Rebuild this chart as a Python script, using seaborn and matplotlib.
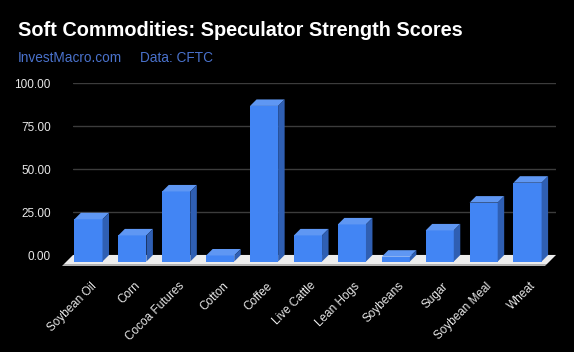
import matplotlib
matplotlib.use("Agg")
import matplotlib.pyplot as plt
from matplotlib.patches import Polygon
import seaborn as sns

# values
commodities = ["Soybean Oil", "Corn", "Cocoa Futures", "Cotton", "Coffee", "Live Cattle",
               "Lean Hogs", "Soybeans", "Sugar", "Soybean Meal", "Wheat"]
scores = [24.6, 15.2, 40.8, 3.5, 90.6, 15.2, 21.6, 2.8, 18.1, 34.3, 45.9]
yticks = [0, 25, 50, 75, 100]

FRONT = "#4285f4"
TOP = "#5f97f3"
SIDE = "#2f5fb3"
DEPTH = 6.5      # bar depth in pixels
FLOOR = 11       # floor depth in pixels


def main():
    sns.set_theme(style="dark")
    plt.rcParams["font.family"] = ["Liberation Sans", "DejaVu Sans"]

    W, H = 574, 352
    fig = plt.figure(figsize=(W / 100, H / 100), dpi=100, facecolor="black")
    # axes = back wall of the 3d box
    ax = fig.add_axes([73 / W, 1 - 255 / H, (556 - 73) / W, (255 - 83.3) / H])
    ax.set_facecolor("black")

    sns.barplot(x=commodities, y=scores, color=FRONT, saturation=1, width=0.64,
                ax=ax, zorder=3)
    ax.set_xlim(-0.5, len(commodities) - 0.5)
    ax.set_ylim(0, 100)

    # pixel -> data unit conversion
    (x0p, y0p), (x1p, y1p) = ax.transData.transform([(0, 0), (1, 1)])
    ux = DEPTH / (x1p - x0p)
    uy = DEPTH / (y1p - y0p)
    fx = FLOOR / (x1p - x0p)
    fy = FLOOR / (y1p - y0p)

    # floor
    xl, xr = ax.get_xlim()
    floor = Polygon([(xl, 0), (xr, 0), (xr - fx * 0.82, -fy * 0.82), (xl - fx * 0.82, -fy * 0.82)],
                    closed=True, facecolor="#ededed", edgecolor="none", clip_on=False, zorder=2)
    edge = Polygon([(xl - fx * 0.82, -fy * 0.82), (xr - fx * 0.82, -fy * 0.82),
                    (xr - fx, -fy), (xl - fx, -fy)],
                   closed=True, facecolor="#b5b5b5", edgecolor="none", clip_on=False, zorder=2)
    ax.add_patch(floor)
    ax.add_patch(edge)

    for p in list(ax.patches):
        if p in (floor, edge):
            continue
        x, w, h = p.get_x(), p.get_width(), p.get_height()
        # move front face forward
        p.set_x(x - ux)
        p.set_y(-uy)
        p.set_clip_on(False)
        p.set_edgecolor("none")
        top = Polygon([(x - ux, h - uy), (x + w - ux, h - uy), (x + w, h), (x, h)],
                      closed=True, facecolor=TOP, edgecolor="none", clip_on=False, zorder=3)
        side = Polygon([(x + w - ux, h - uy), (x + w, h), (x + w, 0), (x + w - ux, -uy)],
                       closed=True, facecolor=SIDE, edgecolor="none", clip_on=False, zorder=3)
        ax.add_patch(top)
        ax.add_patch(side)

    ax.set_yticks(yticks)
    ax.set_yticklabels([f"{v:.2f}" for v in yticks])
    ax.grid(True, axis="y", color="#3c3c3c", linewidth=1)
    ax.grid(False, axis="x")
    for s in ax.spines.values():
        s.set_visible(False)
    ax.tick_params(axis="y", colors="#e8e8e8", labelsize=8.5, pad=16, length=0)
    ax.tick_params(axis="x", colors="#e8e8e8", labelsize=8.5, pad=21, length=0)
    for lab in ax.get_xticklabels():
        lab.set_rotation(45)
        lab.set_ha("right")
        lab.set_va("center")
        lab.set_rotation_mode("anchor")
    ax.set_xlabel("")
    ax.set_ylabel("")

    fig.text(18 / W, 1 - 35.7 / H, "Soft Commodities: Speculator Strength Scores",
             color="white", fontsize=14.3, fontweight="bold", va="baseline")
    fig.text(18 / W, 1 - 61.7 / H, "InvestMacro.com", color="#4a72cc",
             fontsize=9.8, va="baseline")
    fig.text(140 / W, 1 - 61.7 / H, "Data: CFTC", color="#4a72cc",
             fontsize=9.8, va="baseline")

    fig.savefig("out.png", dpi=100, facecolor="black")


if __name__ == "__main__":
    main()
